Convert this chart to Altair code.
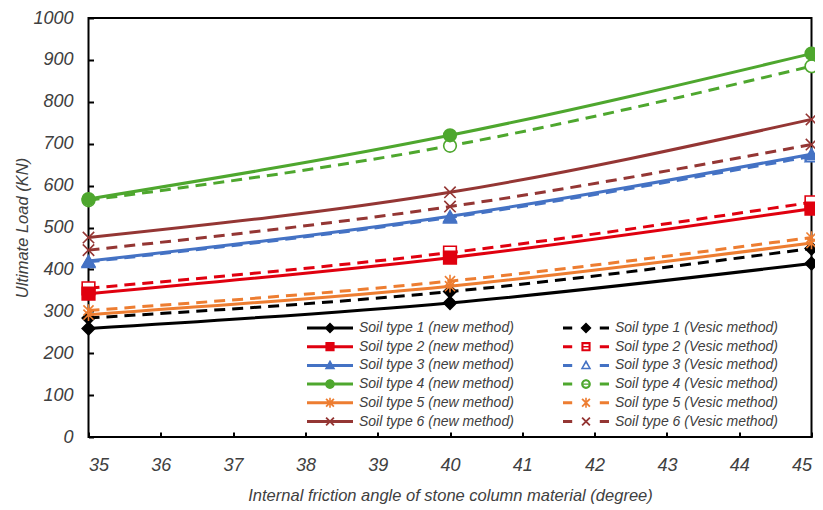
import altair as alt
import pandas as pd

# ---------------- data ----------------
angles = [35, 40, 45]
soil_types = ["Soil type 1", "Soil type 2", "Soil type 3", "Soil type 4", "Soil type 5", "Soil type 6"]
colors = ["#000000", "#E0000F", "#4472C4", "#4EA72E", "#ED7D31", "#943634"]

new_s1 = [259, 320, 414]
new_s2 = [342, 428, 545]
new_s3 = [420, 527, 675]
new_s4 = [568, 720, 915]
new_s5 = [292, 360, 463]
new_s6 = [476, 584, 758]

ves_s1 = [284, 347, 450]
ves_s2 = [355, 440, 560]
ves_s3 = [418, 524, 670]
ves_s4 = [565, 695, 885]
ves_s5 = [302, 372, 476]
ves_s6 = [446, 550, 698]

new_values = [new_s1, new_s2, new_s3, new_s4, new_s5, new_s6]
ves_values = [ves_s1, ves_s2, ves_s3, ves_s4, ves_s5, ves_s6]

rows = []
new_names = [f"{s} (new method)" for s in soil_types]
ves_names = [f"{s} (Vesic method)" for s in soil_types]
series_order = new_names + ves_names  # legend fills column by column
for i in range(6):
    for a, val in zip(angles, new_values[i]):
        rows.append({"series": new_names[i], "method": "new", "angle": a, "load": val})
    for a, val in zip(angles, ves_values[i]):
        rows.append({"series": ves_names[i], "method": "Vesic", "angle": a, "load": val})
df = pd.DataFrame(rows)

# ---------------- styles ----------------
stroke_range = colors + colors
fill_range = colors + ["#000000"] + ["#FFFFFF"] * 5

STAR = "M0,-1V1M-0.8,-0.8L0.8,0.8M-0.8,0.8L0.8,-0.8"
XMK = "M-0.9,-0.9L0.9,0.9M-0.9,0.9L0.9,-0.9"
marker_shapes = ["diamond", "square", "triangle-up", "circle", STAR, XMK]
main_shapes = marker_shapes + marker_shapes

# legend glyphs (line + marker), drawn as filled outlines; K rescales to symbol units
K = 23 / 7.0


def f(v):
    return f"{v * K:.4f}"


def rect(x0, y0, x1, y1, hole=False):
    if hole:
        return f"M{f(x0)},{f(y0)}V{f(y1)}H{f(x1)}V{f(y0)}Z "
    return f"M{f(x0)},{f(y0)}H{f(x1)}V{f(y1)}H{f(x0)}Z "


def poly(pts):
    s = "M" + "L".join(f"{f(x)},{f(y)}" for x, y in pts)
    return s + "Z "


def circ(r, hole=False):
    sw = 0 if hole else 1
    return (f"M{f(-r)},0A{f(r)},{f(r)},0,1,{sw},{f(r)},0"
            f"A{f(r)},{f(r)},0,1,{sw},{f(-r)},0Z ")


LINE = rect(-1, -0.065, 1, 0.065)
DASH = rect(-1, -0.065, -0.6, 0.065) + rect(0.6, -0.065, 1, 0.065)
DIA = poly([(0, -0.24), (0.24, 0), (0, 0.24), (-0.24, 0)])
SQ = rect(-0.2, -0.2, 0.2, 0.2)
SQH = rect(-0.11, -0.11, 0.11, 0.11, hole=True) + rect(-0.11, -0.03, 0.11, 0.03)
TRI = poly([(0, -0.25), (0.23, 0.17), (-0.23, 0.17)])
TRIH = poly([(0, -0.09), (-0.12, 0.1), (0.12, 0.1)])
CIR = circ(0.21)
CIRH = circ(0.12, hole=True) + rect(-0.12, -0.03, 0.12, 0.03)
DIAG = (poly([(-0.142, -0.198), (0.198, 0.142), (0.142, 0.198), (-0.198, -0.142)])
        + poly([(-0.198, 0.142), (0.142, -0.198), (0.198, -0.142), (-0.142, 0.198)]))
AST = rect(-0.035, -0.22, 0.035, 0.22) + DIAG
legend_shapes = [
    LINE + DIA, LINE + SQ, LINE + TRI, LINE + CIR, LINE + AST, LINE + DIAG,
    DASH + DIA, DASH + SQ + SQH, DASH + TRI + TRIH, DASH + CIR + CIRH, DASH + AST, DASH + DIAG,
]

FONT = "Liberation Sans"
TXT = "#404040"

x_enc = alt.X("angle:Q", scale=alt.Scale(domain=[35, 45], nice=False, zero=False),
              axis=alt.Axis(values=list(range(35, 46)), format="d", offset=-5, domain=False,
                            tickSize=5, tickWidth=2, tickColor="#000000", grid=False,
                            labelPadding=19, labelFont=FONT, labelFontSize=18,
                            labelFontStyle="italic", labelColor=TXT, labelAngle=0,
                            title="Internal friction angle of stone column material (degree)",
                            titleFont=FONT, titleFontSize=16.5, titleFontStyle="italic",
                            titleFontWeight="normal", titleColor=TXT, titlePadding=13))
y_enc = alt.Y("load:Q", scale=alt.Scale(domain=[0, 1000], nice=False),
              axis=alt.Axis(values=list(range(0, 1001, 100)), format="d", offset=-5, domain=False,
                            tickSize=5, tickWidth=2, tickColor="#000000", grid=False,
                            labelPadding=15.5, labelFont=FONT, labelFontSize=18,
                            labelFontStyle="italic", labelColor=TXT,
                            title="Ultimate Load (KN)", titleFont=FONT, titleFontSize=16.5,
                            titleFontStyle="italic", titleFontWeight="normal",
                            titleColor=TXT, titlePadding=2))

stroke_enc = alt.Stroke("series:N", scale=alt.Scale(domain=series_order, range=stroke_range), legend=None)
fill_enc = alt.Fill("series:N", scale=alt.Scale(domain=series_order, range=fill_range), legend=None)
shape_enc = alt.Shape("series:N", scale=alt.Scale(domain=series_order, range=main_shapes), legend=None)

base = alt.Chart(df)

vesic = base.transform_filter(alt.datum.method == "Vesic")
new = base.transform_filter(alt.datum.method == "new")

vesic_lines = vesic.mark_line(strokeWidth=3, strokeDash=[11, 7], interpolate="monotone").encode(
    x=x_enc, y=y_enc, stroke=stroke_enc)
vesic_pts = vesic.mark_point(filled=True, size=160, strokeWidth=1.6, opacity=1).encode(
    x=x_enc, y=y_enc, stroke=stroke_enc, fill=fill_enc, shape=shape_enc)
new_lines = new.mark_line(strokeWidth=3, interpolate="monotone").encode(
    x=x_enc, y=y_enc, stroke=stroke_enc)
new_pts = new.mark_point(filled=True, size=160, strokeWidth=1.6, opacity=1).encode(
    x=x_enc, y=y_enc, stroke=stroke_enc, fill=fill_enc, shape=shape_enc)

leg = alt.Legend(title=None, orient="none", legendX=234.5, legendY=303, columns=2,
                 columnPadding=49, rowPadding=4.7, symbolSize=196, symbolStrokeWidth=0,
                 symbolOpacity=1, labelOffset=22, labelFont=FONT, labelFontSize=14,
                 labelFontStyle="italic", labelColor=TXT, labelLimit=300, padding=0)

legend_layer = base.mark_point(filled=True, opacity=0).encode(
    x=x_enc, y=y_enc,
    color=alt.Color("series:N", scale=alt.Scale(domain=series_order, range=stroke_range), legend=leg),
    shape=alt.Shape("series:N", scale=alt.Scale(domain=series_order, range=legend_shapes), legend=leg),
)

chart = alt.layer(vesic_lines, vesic_pts, new_lines, new_pts, legend_layer).resolve_scale(
    shape="independent", color="independent"
).properties(
    width=723, height=419,
    autosize=alt.AutoSizeParams(type="none"),
    padding={"left": 80.5, "top": 10, "right": 3, "bottom": 70},
    background="#FFFFFF",
).configure_view(stroke="#000000", strokeWidth=2)

chart.save("out.html", embed_options={"renderer": "svg", "actions": False})
